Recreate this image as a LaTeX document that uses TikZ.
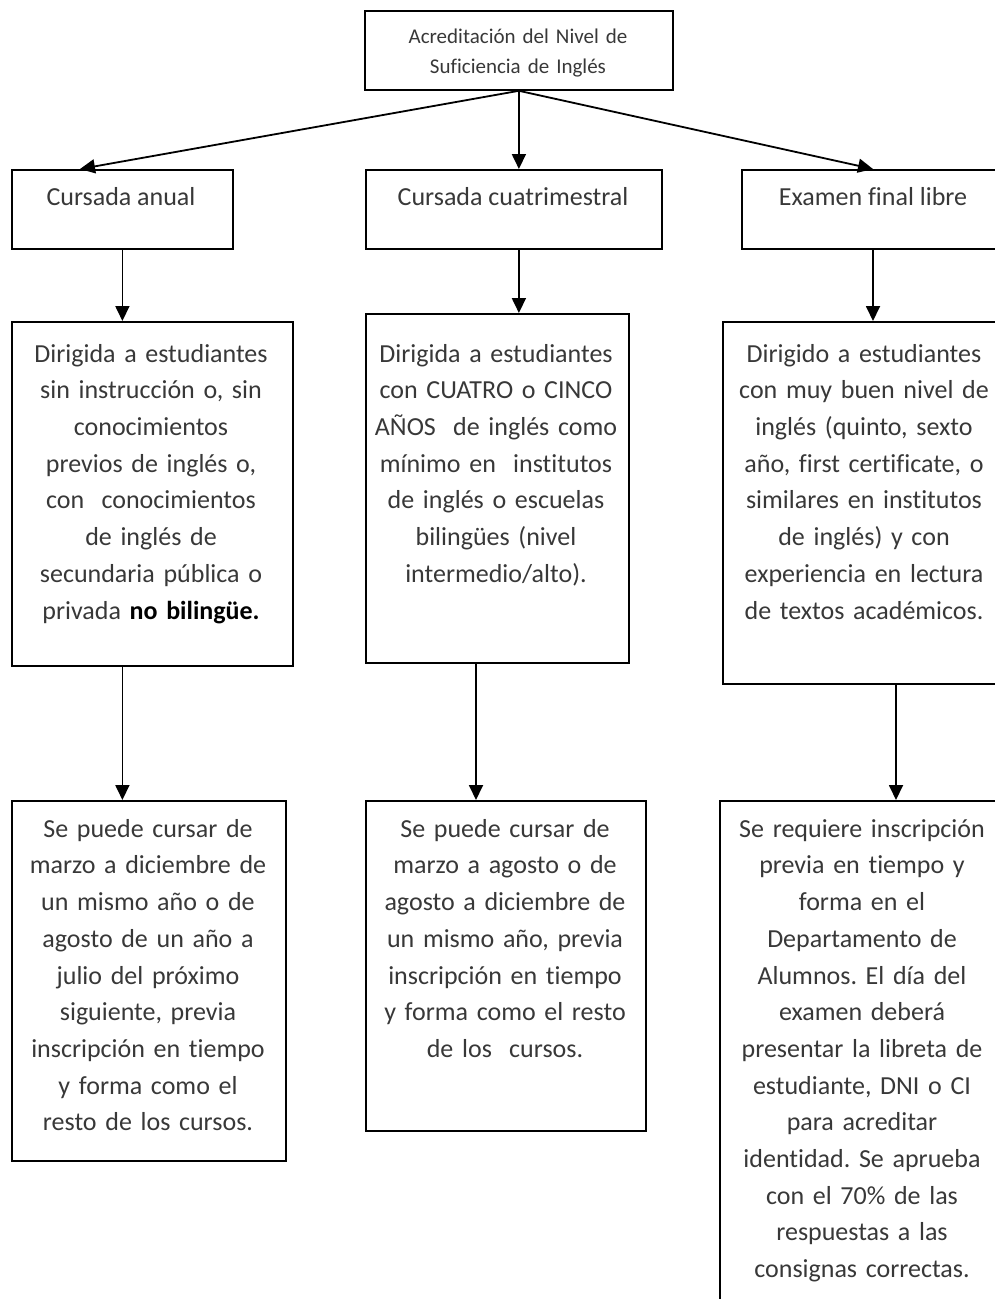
\documentclass[tikz,border=0pt]{standalone}
\usepackage{fontspec}
\setmainfont[Ligatures={NoCommon,NoContextual}]{Carlito}
\usetikzlibrary{arrows.meta}
\definecolor{txtc}{gray}{0.22}
\frenchspacing
\begin{document}
\begin{tikzpicture}[x=1pt,y=-1pt,
  box/.style={draw=black,line width=1.8pt,inner sep=0pt,anchor=north west},
  txt/.style={inner sep=0pt,align=center,text width=300pt,text=txtc,anchor=north,
    font=\fontsize{26}{36.7}\selectfont},
  ttl/.style={inner sep=0pt,text=txtc,anchor=base,font=\fontsize{26}{36.7}\selectfont},
  conn/.style={line width=1.8pt,-{Triangle[length=15pt,width=14pt]}}]
\path[use as bounding box] (0,0) rectangle (995,1299);
\clip (0,0) rectangle (995,1299);
% boxes
\node[box,minimum width=308pt,minimum height=79pt] (top) at (364,10) {};
\node[box,minimum width=221pt,minimum height=79pt] (A2) at (11,169) {};
\node[box,minimum width=296pt,minimum height=79pt] (B2) at (365,169) {};
\node[box,minimum width=300pt,minimum height=79pt] (C2) at (741,169) {};
\node[box,minimum width=281pt,minimum height=344pt] (A3) at (11,321) {};
\node[box,minimum width=263pt,minimum height=349pt] (B3) at (365,313) {};
\node[box,minimum width=300pt,minimum height=362pt] (C3) at (722,321) {};
\node[box,minimum width=274pt,minimum height=360pt] (A4) at (11,800) {};
\node[box,minimum width=280pt,minimum height=330pt] (B4) at (365,800) {};
\node[box,minimum width=300pt,minimum height=540pt] (C4) at (719,800) {};
% texts
\node[txt,font=\fontsize{21}{30.5}\selectfont] (topt) at (518,21.6)
  {\strut Acreditación del Nivel de\\Suficiencia de Inglés};
\node[ttl] (A2t) at (121,205) {Cursada anual};
\node[ttl] (B2t) at (513,205) {Cursada cuatrimestral};
\node[ttl] (C2t) at (873,205) {Examen final libre};
\node[txt] (A3t) at (151,336.3) {\strut Dirigida a estudiantes\\sin instrucción o, sin\\conocimientos\\previos de inglés o,\\con\ \ conocimientos\\de inglés de\\secundaria pública o\\privada {\bfseries\color{black}no bilingüe.}};
\node[txt] (B3t) at (496,336.3) {\strut Dirigida a estudiantes\\con CUATRO o CINCO\\AÑOS\ \ de inglés como\\mínimo en\ \ institutos\\de inglés o escuelas\\bilingües (nivel\\intermedio/alto).};
\node[txt] (C3t) at (864,336.3) {\strut Dirigido a estudiantes\\con muy buen nivel de\\inglés (quinto, sexto\\año, first certificate, o\\similares en institutos\\de inglés) y con\\experiencia en lectura\\de textos académicos.};
\node[txt] (A4t) at (148,811.3) {\strut Se puede cursar de\\marzo a diciembre de\\un mismo año o de\\agosto de un año a\\julio del próximo\\siguiente, previa\\inscripción en tiempo\\y forma como el\\resto de los cursos.};
\node[txt] (B4t) at (505,811.3) {\strut Se puede cursar de\\marzo a agosto o de\\agosto a diciembre de\\un mismo año, previa\\inscripción en tiempo\\y forma como el resto\\de los\ \ cursos.};
\node[txt] (C4t) at (862,811.3) {\strut Se requiere inscripción\\previa en tiempo y\\forma en el\\Departamento de\\Alumnos. El día del\\examen deberá\\presentar la libreta de\\estudiante, DNI o CI\\para acreditar\\identidad. Se aprueba\\con el 70\% de las\\respuestas a las\\consignas correctas.};
% connectors
\draw[conn] (top.south) -- ([xshift=69]A2.north west);
\draw[conn] (top.south) -- (top.south |- B2.north);
\draw[conn] (top.south) -- ([xshift=132]C2.north west);
\draw[conn] (A2.south) -- (A2.south |- A3.north);
\draw[conn] (top.south |- B2.south) -- (top.south |- B3.north);
\draw[conn] ([xshift=132]C2.south west) -- ([xshift=151]C3.north west);
\draw[conn] (A2.south |- A3.south) -- (A2.south |- A4.north);
\draw[conn] ([xshift=111]B3.south west) -- ([xshift=111]B4.north west);
\draw[conn] ([xshift=174]C3.south west) -- ([xshift=177]C4.north west);
\end{tikzpicture}
\end{document}
